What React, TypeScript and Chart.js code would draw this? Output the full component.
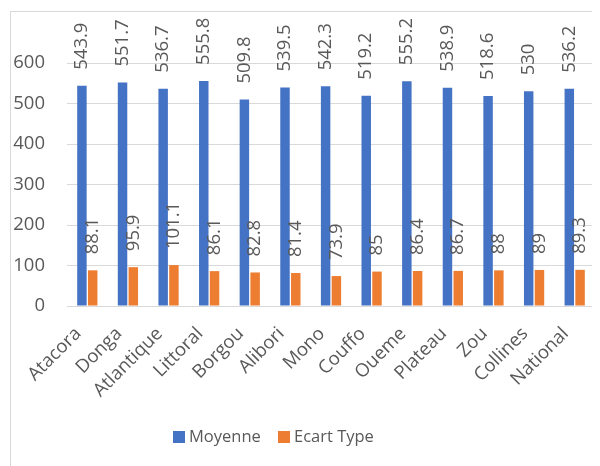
import React, { useEffect, useRef } from "react";
import { Chart, registerables } from "chart.js";

Chart.register(...registerables);

const categories = [
  "Atacora", "Donga", "Atlantique", "Littoral", "Borgou", "Alibori", "Mono",
  "Couffo", "Oueme", "Plateau", "Zou", "Collines", "National",
];
const moyenne = [543.9, 551.7, 536.7, 555.8, 509.8, 539.5, 542.3, 519.2, 555.2, 538.9, 518.6, 530, 536.2];
const ecartType = [88.1, 95.9, 101.1, 86.1, 82.8, 81.4, 73.9, 85, 86.4, 86.7, 88, 89, 89.3];
const seriesNames = ["Moyenne", "Ecart Type"];
const seriesColors = ["#4472C4", "#ED7D31"];

const FONT = "'Open Sans', 'Noto Sans', sans-serif";
const TEXT = "#595959";

const framePlugin = {
  id: "frame",
  beforeDraw(chart: any) {
    const ctx = chart.ctx;
    ctx.save();
    ctx.fillStyle = "#ffffff";
    ctx.fillRect(0, 0, chart.width, chart.height);
    ctx.strokeStyle = "#d9d9d9";
    ctx.lineWidth = 1;
    ctx.strokeRect(2.5, 3.5, chart.width + 50, chart.height + 50);
    ctx.restore();
  },
};

const labelPlugin = {
  id: "barLabels",
  afterDatasetsDraw(chart: any) {
    const ctx = chart.ctx;
    ctx.save();
    ctx.font = `18.5px ${FONT}`;
    ctx.fillStyle = TEXT;
    ctx.textAlign = "left";
    ctx.textBaseline = "middle";
    chart.data.datasets.forEach((ds: any, di: number) => {
      const meta = chart.getDatasetMeta(di);
      meta.data.forEach((bar: any, i: number) => {
        const v = ds.data[i];
        ctx.save();
        ctx.translate(bar.x, bar.y - 16);
        ctx.rotate(-Math.PI / 2);
        ctx.fillText(String(v), 0, 0);
        ctx.restore();
      });
    });
    ctx.restore();
  },
};

const legendPlugin = {
  id: "customLegend",
  afterDraw(chart: any) {
    const ctx = chart.ctx;
    ctx.save();
    ctx.font = `16.5px ${FONT}`;
    ctx.textBaseline = "middle";
    ctx.textAlign = "left";
    const cy = 429;
    const starts = [165, 270];
    chart.data.datasets.forEach((ds: any, i: number) => {
      const x = starts[i];
      ctx.fillStyle = seriesColors[i];
      ctx.fillRect(x, cy - 6, 12, 12);
      ctx.fillStyle = TEXT;
      ctx.fillText(ds.label, x + 16, cy);
    });
    ctx.restore();
  },
};

export default function App() {
  const ref = useRef<HTMLCanvasElement | null>(null);
  useEffect(() => {
    if (!ref.current) return;
    const chart = new Chart(ref.current, {
      type: "bar",
      data: {
        labels: categories,
        datasets: [
          {
            label: seriesNames[0],
            data: moyenne,
            backgroundColor: seriesColors[0],
            borderWidth: 0,
            categoryPercentage: 0.53,
            barPercentage: 0.88,
          },
          {
            label: seriesNames[1],
            data: ecartType,
            backgroundColor: seriesColors[1],
            borderWidth: 0,
            categoryPercentage: 0.53,
            barPercentage: 0.88,
          },
        ],
      },
      options: {
        animation: false,
        responsive: false,
        maintainAspectRatio: false,
        layout: { padding: { top: 55, right: 5, left: 0, bottom: 48 } },
        plugins: {
          tooltip: { enabled: false },
          legend: { display: false },
        },
        scales: {
          x: {
            grid: { display: false },
            border: { display: false },
            ticks: {
              color: TEXT,
              font: { family: FONT, size: 18.5 },
              maxRotation: 45,
              minRotation: 45,
              autoSkip: false,
              padding: 9,
              labelOffset: -9,
            },
            afterFit(scale: any) {
              scale.height = 112;
            },
          },
          y: {
            min: 0,
            max: 600,
            grid: { color: "#d9d9d9", drawTicks: false },
            border: { display: false },
            ticks: {
              stepSize: 100,
              color: TEXT,
              font: { family: FONT, size: 18.5 },
              padding: 22,
            },
            afterFit(scale: any) {
              scale.width = 59;
            },
          },
        },
      },
      plugins: [framePlugin, labelPlugin, legendPlugin],
    });
    return () => chart.destroy();
  }, []);
  return <canvas ref={ref} width={592} height={458} style={{ display: "block" }} />;
}
